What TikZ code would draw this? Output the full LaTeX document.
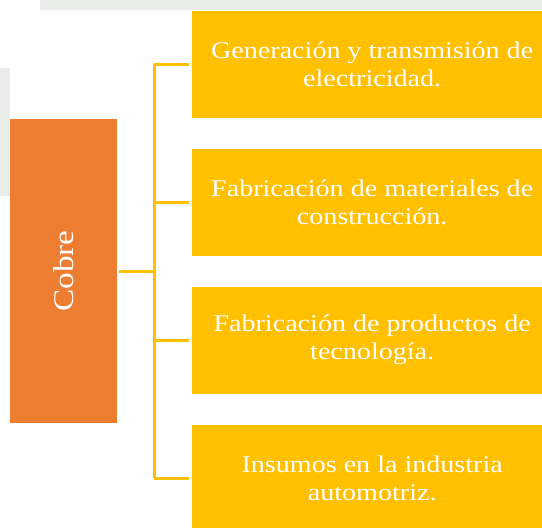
\documentclass[tikz,border=0pt]{standalone}
\usepackage{fontspec}
\setmainfont[FakeStretch=1.17]{Liberation Serif}
\definecolor{cobre}{HTML}{ED7D31}
\definecolor{oro}{HTML}{FFC000}
\definecolor{fondo}{HTML}{EAECEA}

\begin{document}
\begin{tikzpicture}[x=1pt,y=-1pt,
        root/.style={fill=cobre,draw=none,inner sep=0pt,minimum width=107pt,minimum height=304pt,text=white,font=\fontsize{28.5}{34}\selectfont},
        item/.style={fill=oro,draw=none,inner sep=0pt,minimum width=360pt,minimum height=107pt,text=white,align=center,anchor=west,font=\fontsize{24}{28}\selectfont},
        link/.style={draw=oro,line width=3pt},
        % link/.style={draw=oro,line width=2.5pt},
        ]
    \useasboundingbox (0,0) rectangle (542,528);
    % faint background
    \fill[fondo] (40,0) rectangle (542,10);
    \fill[fondo] (0,68) rectangle (10,196);

    \node (cobre) [root] at (63.5,271) {\rotatebox{90}{Cobre}};

    \node (gen) [item] at (192,64) {Generación y transmisión de\\electricidad.};
    \node (fab) [item] at (192,202) {Fabricación de materiales de\\construcción.};
    \node (tec) [item] at (192,340) {Fabricación de productos de\\tecnología.};
    \node (ins) [item] at (192,478) {Insumos en la industria\\automotriz.};

    \coordinate (bus) at (154,271);
    \draw[link,shorten <=2pt] (cobre.east) -- (bus);
    \draw[link] (bus |- gen.west) -- (bus |- ins.west); % the spine
    \draw[link,shorten >=3pt] (bus |- gen.west) -- (gen.west);
    \draw[link,shorten >=3pt] (bus |- fab.west) -- (fab.west);
    \draw[link,shorten >=3pt] (bus |- tec.west) -- (tec.west);
    \draw[link,shorten >=3pt] (bus |- ins.west) -- (ins.west);
\end{tikzpicture}
\end{document}
